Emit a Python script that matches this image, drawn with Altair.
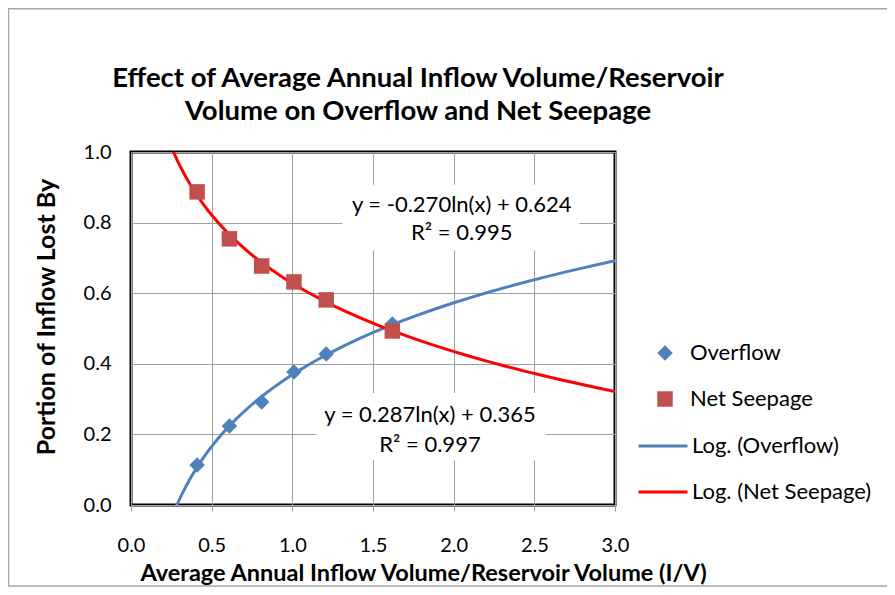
import altair as alt
import pandas as pd

# ---- data ----
ratio = [0.41, 0.61, 0.81, 1.01, 1.21, 1.62]
overflow = [0.113, 0.224, 0.292, 0.377, 0.428, 0.513]
net_seepage = [0.887, 0.754, 0.677, 0.632, 0.581, 0.493]

point_names = ["Overflow", "Net Seepage"]
point_colors = ["#4F81BD", "#C0504D"]
point_shapes = ["diamond", "square"]
line_names = ["Log. (Overflow)", "Log. (Net Seepage)"]
line_colors = ["#4F81BD", "#FF0000"]

title_lines = ["Effect of Average Annual  Inflow Volume/Reservoir",
               "Volume on Overflow and Net Seepage"]

eq_text = ["y = -0.270ln(x) + 0.624", "R\u00b2 = 0.995", "y = 0.287ln(x) + 0.365", "R\u00b2 = 0.997"]
eq_x = [2.05, 2.05, 1.853, 1.853]
eq_y = [0.85, 0.771, 0.255, 0.170]

box_x = [1.31, 1.15]
box_x2 = [2.78, 2.57]
box_y = [0.907, 0.317]
box_y2 = [0.722, 0.127]

FONT = "Lato"
W, H = 484, 353
PAD = {"left": 123, "top": 144, "right": 272, "bottom": 82}

pts = pd.DataFrame({
    "x": ratio * 2,
    "y": overflow + net_seepage,
    "series": ["Overflow"] * len(ratio) + ["Net Seepage"] * len(ratio),
})
eqs = pd.DataFrame({"x": eq_x, "y": eq_y, "t": eq_text})
boxes = pd.DataFrame({"x": box_x, "x2": box_x2, "y": box_y, "y2": box_y2})

xscale = alt.Scale(domain=[0, 3])
yscale = alt.Scale(domain=[0, 1])

xaxis = alt.Axis(
    title="Average Annual Inflow Volume/Reservoir Volume (I/V)",
    values=[0, 0.5, 1, 1.5, 2, 2.5, 3], format=".1f",
    tickSize=6, tickColor="#9a9a9a", labelPadding=24, titlePadding=6,
    titleX=W / 2 + 50, titleFontSize=23.5, labelFlush=False,
    domain=False, grid=True,
)
yaxis = alt.Axis(
    title="Portion of Inflow Lost By",
    values=[0, 0.2, 0.4, 0.6, 0.8, 1.0], format=".1f",
    ticks=False, labelPadding=20, titlePadding=24,
    titleY=H / 2 - 12, titleFontSize=25, labelFlush=False,
    domain=False, grid=True,
)

legend_pts = alt.Legend(
    title=None, orient="none", legendX=523, legendY=190,
    labelFontSize=22, labelFont=FONT, labelColor="#000", labelLimit=300,
    symbolSize=240, symbolStrokeWidth=0, rowPadding=24, labelOffset=14, padding=0,
)
legend_lines = alt.Legend(
    title=None, orient="none", legendX=506, legendY=268,
    labelFontSize=22, labelFont=FONT, labelColor="#000", labelLimit=300,
    symbolType="stroke", symbolSize=2401, symbolStrokeWidth=3,
    rowPadding=9, labelOffset=3, padding=0,
)

frame = alt.Chart(alt.Data(values=[{}])).mark_rect(
    filled=False, stroke="#a6a6a6", strokeWidth=1.5
).encode(
    x=alt.value(-122.5), x2=alt.value(W + 320),
    y=alt.value(-143.3), y2=alt.value(H + 81),
)

title = alt.Chart(alt.Data(values=[{}])).mark_text(
    text=title_lines, fontSize=27.5, font=FONT, fontWeight="bold", color="#000",
    align="center", baseline="middle", lineHeight=33,
).encode(x=alt.value(287), y=alt.value(-73))

white = alt.Chart(boxes).mark_rect(fill="white").encode(
    x=alt.X("x:Q", scale=xscale, axis=xaxis),
    x2="x2:Q",
    y=alt.Y("y:Q", scale=yscale, axis=yaxis),
    y2="y2:Q",
)

lines = alt.Chart(pts).transform_regression(
    "x", "y", groupby=["series"], method="log", extent=[0.2, 3.0]
).transform_calculate(
    lab="'Log. (' + datum.series + ')'"
).mark_line(strokeWidth=3, clip=True).encode(
    x=alt.X("x:Q", scale=xscale, axis=xaxis),
    y=alt.Y("y:Q", scale=yscale, axis=yaxis),
    stroke=alt.Stroke("lab:N", scale=alt.Scale(domain=line_names, range=line_colors),
                      legend=legend_lines),
)

points = alt.Chart(pts).mark_point(filled=True, opacity=1, size=240, strokeWidth=0).encode(
    x=alt.X("x:Q", scale=xscale, axis=xaxis),
    y=alt.Y("y:Q", scale=yscale, axis=yaxis),
    fill=alt.Fill("series:N", scale=alt.Scale(domain=point_names, range=point_colors),
                  legend=legend_pts),
    shape=alt.Shape("series:N", scale=alt.Scale(domain=point_names, range=point_shapes),
                    legend=legend_pts),
)

text = alt.Chart(eqs).mark_text(fontSize=22, font=FONT, color="#000").encode(
    x=alt.X("x:Q", scale=xscale, axis=xaxis),
    y=alt.Y("y:Q", scale=yscale, axis=yaxis),
    text="t:N",
)

chart = alt.layer(frame, title, white, lines, points, text).properties(
    width=W, height=H,
    autosize=alt.AutoSizeParams(type="none"),
    padding=PAD,
).configure_view(
    stroke="#000", strokeWidth=3
).configure_axis(
    labelFont=FONT, labelFontSize=20, labelColor="#000",
    titleFont=FONT, titleFontWeight="bold", titleColor="#000",
    gridColor="#a0a0a0", gridWidth=1, gridOpacity=1,
)

chart.save("out.html", embed_options={"renderer": "svg", "actions": False})
